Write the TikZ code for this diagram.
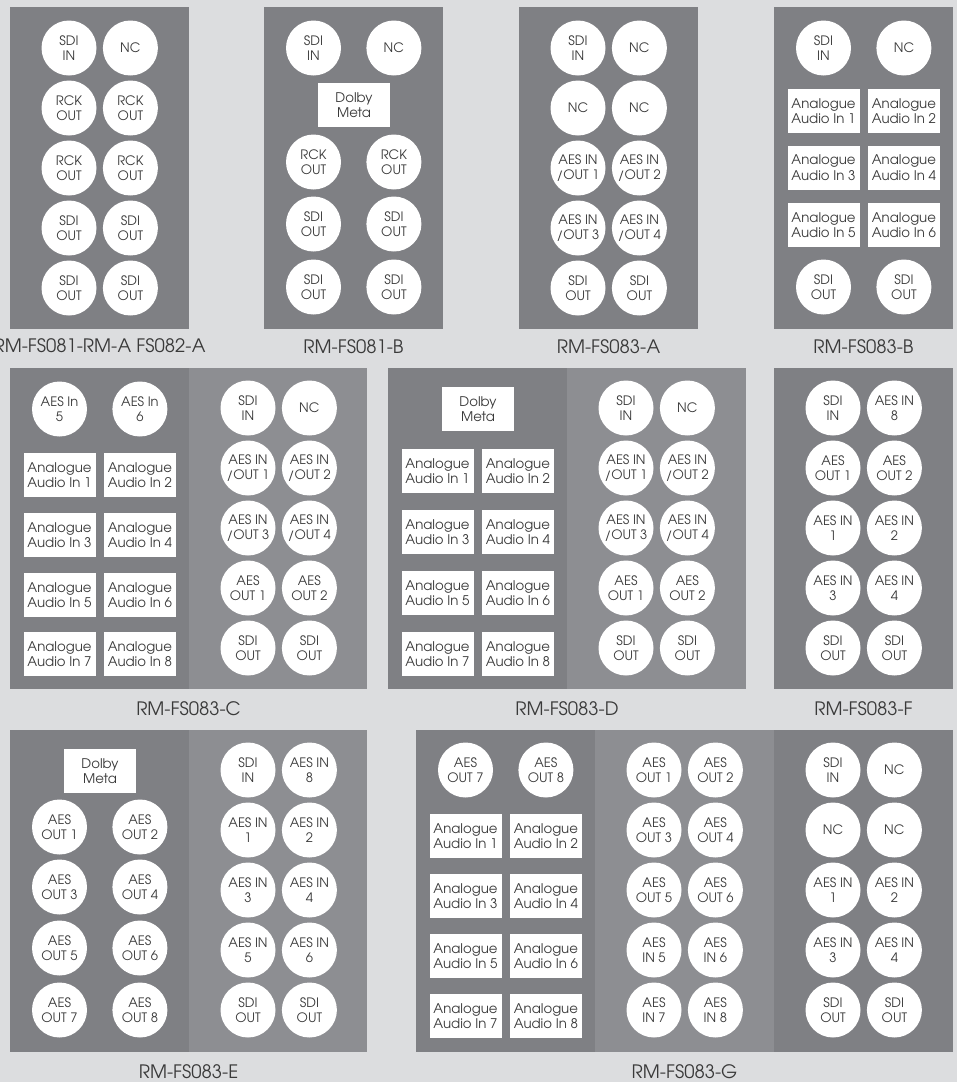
\documentclass[tikz,border=0pt]{standalone}
\usepackage{fontspec}
\setmainfont{TeX Gyre Adventor}
\usetikzlibrary{positioning}
\definecolor{pagegrey}{HTML}{DCDDDF}
\definecolor{paneldark}{HTML}{7F8084}
\definecolor{panellight}{HTML}{8D8E92}
\definecolor{textgrey}{HTML}{3A3A3A}
\tikzset{
  jack/.style={circle,fill=white,text=textgrey,align=center,minimum size=55pt,
    inner sep=0pt,font=\fontsize{13}{15.5}\selectfont},
  audiobox/.style={rectangle,fill=white,text=textgrey,align=center,minimum width=72pt,
    minimum height=44pt,inner sep=0pt,font=\fontsize{13.3}{15.5}\selectfont},
  panellabel/.style={text=textgrey,font=\fontsize{18.5}{21}\selectfont}
}
\begin{document}
\begin{tikzpicture}[x=1pt,y=-1pt]
  \path[use as bounding box,fill=pagegrey] (0,0) rectangle (957,1082);

  % RM-FS081-RM-A FS082-A
  \fill[paneldark] (10,7) rectangle (189,329);
  \node[jack] (rmA-sdiin) at (69,48) {SDI\\IN};
  \node[jack,right=6pt of rmA-sdiin] (rmA-nc) {NC};
  \node[jack] (rmA-rck1) at (69,108) {RCK\\OUT};
  \node[jack,right=6pt of rmA-rck1] (rmA-rck2) {RCK\\OUT};
  \node[jack] (rmA-rck3) at (69,168) {RCK\\OUT};
  \node[jack,right=6pt of rmA-rck3] (rmA-rck4) {RCK\\OUT};
  \node[jack] (rmA-sdiout1) at (69,228) {SDI\\OUT};
  \node[jack,right=6pt of rmA-sdiout1] (rmA-sdiout2) {SDI\\OUT};
  \node[jack] (rmA-sdiout3) at (69,288) {SDI\\OUT};
  \node[jack,right=6pt of rmA-sdiout3] (rmA-sdiout4) {SDI\\OUT};
  \node[panellabel] (rmA-label) at (99.5,346) {RM-FS081-RM-A FS082-A};

  % RM-FS081-B
  \fill[paneldark] (264,7) rectangle (443,329);
  \node[jack] (rmB-sdiin) at (313.5,48) {SDI\\IN};
  \node[jack,right=25pt of rmB-sdiin] (rmB-nc) {NC};
  \node[audiobox] (rmB-dolby) at (354,105) {Dolby\\Meta};
  \node[jack] (rmB-rck1) at (313.5,162) {RCK\\OUT};
  \node[jack,right=25pt of rmB-rck1] (rmB-rck2) {RCK\\OUT};
  \node[jack] (rmB-sdiout1) at (313.5,224) {SDI\\OUT};
  \node[jack,right=25pt of rmB-sdiout1] (rmB-sdiout2) {SDI\\OUT};
  \node[jack] (rmB-sdiout3) at (313.5,287) {SDI\\OUT};
  \node[jack,right=25pt of rmB-sdiout3] (rmB-sdiout4) {SDI\\OUT};
  \node[panellabel] (rmB-label) at (353.5,347) {RM-FS081-B};

  % RM-FS083-A
  \fill[paneldark] (519,7) rectangle (698,329);
  \node[jack] (fsA-sdiin) at (578,48) {SDI\\IN};
  \node[jack,right=6pt of fsA-sdiin] (fsA-nc1) {NC};
  \node[jack] (fsA-nc2) at (578,108) {NC};
  \node[jack,right=6pt of fsA-nc2] (fsA-nc3) {NC};
  \node[jack] (fsA-aes1) at (578,168) {AES IN\\/OUT 1};
  \node[jack,right=6pt of fsA-aes1] (fsA-aes2) {AES IN\\/OUT 2};
  \node[jack] (fsA-aes3) at (578,228) {AES IN\\/OUT 3};
  \node[jack,right=6pt of fsA-aes3] (fsA-aes4) {AES IN\\/OUT 4};
  \node[jack] (fsA-sdiout1) at (578,288) {SDI\\OUT};
  \node[jack,right=6pt of fsA-sdiout1] (fsA-sdiout2) {SDI\\OUT};
  \node[panellabel] (fsA-label) at (608.5,347) {RM-FS083-A};

  % RM-FS083-B
  \fill[paneldark] (774,7) rectangle (953,329);
  \node[jack] (fsB-sdiin) at (823.5,48) {SDI\\IN};
  \node[jack,right=25pt of fsB-sdiin] (fsB-nc) {NC};
  \node[audiobox] (fsB-ana1) at (823.5,111) {Analogue\\Audio In 1};
  \node[audiobox,right=8pt of fsB-ana1] (fsB-ana2) {Analogue\\Audio In 2};
  \node[audiobox] (fsB-ana3) at (823.5,167.5) {Analogue\\Audio In 3};
  \node[audiobox,right=8pt of fsB-ana3] (fsB-ana4) {Analogue\\Audio In 4};
  \node[audiobox] (fsB-ana5) at (823.5,225) {Analogue\\Audio In 5};
  \node[audiobox,right=8pt of fsB-ana5] (fsB-ana6) {Analogue\\Audio In 6};
  \node[jack] (fsB-sdiout1) at (823.5,287) {SDI\\OUT};
  \node[jack,right=25pt of fsB-sdiout1] (fsB-sdiout2) {SDI\\OUT};
  \node[panellabel] (fsB-label) at (863.5,347) {RM-FS083-B};

  % RM-FS083-C
  \fill[paneldark] (10,368) rectangle (189,689);
  \fill[panellight] (189,368) rectangle (367,689);
  \node[jack] (fsC-aesin5) at (59.5,409) {AES In\\5};
  \node[jack,right=25pt of fsC-aesin5] (fsC-aesin6) {AES In\\6};
  \node[audiobox] (fsC-ana1) at (59.5,475) {Analogue\\Audio In 1};
  \node[audiobox,right=8pt of fsC-ana1] (fsC-ana2) {Analogue\\Audio In 2};
  \node[audiobox] (fsC-ana3) at (59.5,535) {Analogue\\Audio In 3};
  \node[audiobox,right=8pt of fsC-ana3] (fsC-ana4) {Analogue\\Audio In 4};
  \node[audiobox] (fsC-ana5) at (59.5,595) {Analogue\\Audio In 5};
  \node[audiobox,right=8pt of fsC-ana5] (fsC-ana6) {Analogue\\Audio In 6};
  \node[audiobox] (fsC-ana7) at (59.5,654) {Analogue\\Audio In 7};
  \node[audiobox,right=8pt of fsC-ana7] (fsC-ana8) {Analogue\\Audio In 8};
  \node[jack] (fsC-sdiin) at (248,408) {SDI\\IN};
  \node[jack,right=6pt of fsC-sdiin] (fsC-nc) {NC};
  \node[jack] (fsC-aes1) at (248,468) {AES IN\\/OUT 1};
  \node[jack,right=6pt of fsC-aes1] (fsC-aes2) {AES IN\\/OUT 2};
  \node[jack] (fsC-aes3) at (248,528) {AES IN\\/OUT 3};
  \node[jack,right=6pt of fsC-aes3] (fsC-aes4) {AES IN\\/OUT 4};
  \node[jack] (fsC-aesout1) at (248,588) {AES\\OUT 1};
  \node[jack,right=6pt of fsC-aesout1] (fsC-aesout2) {AES\\OUT 2};
  \node[jack] (fsC-sdiout1) at (248,648) {SDI\\OUT};
  \node[jack,right=6pt of fsC-sdiout1] (fsC-sdiout2) {SDI\\OUT};
  \node[panellabel] (fsC-label) at (188.5,709) {RM-FS083-C};

  % RM-FS083-D
  \fill[paneldark] (388,368) rectangle (567,689);
  \fill[panellight] (567,368) rectangle (746,689);
  \node[audiobox] (fsD-dolby) at (478,409) {Dolby\\Meta};
  \node[audiobox] (fsD-ana1) at (437.5,471) {Analogue\\Audio In 1};
  \node[audiobox,right=8pt of fsD-ana1] (fsD-ana2) {Analogue\\Audio In 2};
  \node[audiobox] (fsD-ana3) at (437.5,532) {Analogue\\Audio In 3};
  \node[audiobox,right=8pt of fsD-ana3] (fsD-ana4) {Analogue\\Audio In 4};
  \node[audiobox] (fsD-ana5) at (437.5,593) {Analogue\\Audio In 5};
  \node[audiobox,right=8pt of fsD-ana5] (fsD-ana6) {Analogue\\Audio In 6};
  \node[audiobox] (fsD-ana7) at (437.5,654) {Analogue\\Audio In 7};
  \node[audiobox,right=8pt of fsD-ana7] (fsD-ana8) {Analogue\\Audio In 8};
  \node[jack] (fsD-sdiin) at (626,408) {SDI\\IN};
  \node[jack,right=6pt of fsD-sdiin] (fsD-nc) {NC};
  \node[jack] (fsD-aes1) at (626,468) {AES IN\\/OUT 1};
  \node[jack,right=6pt of fsD-aes1] (fsD-aes2) {AES IN\\/OUT 2};
  \node[jack] (fsD-aes3) at (626,528) {AES IN\\/OUT 3};
  \node[jack,right=6pt of fsD-aes3] (fsD-aes4) {AES IN\\/OUT 4};
  \node[jack] (fsD-aesout1) at (626,588) {AES\\OUT 1};
  \node[jack,right=6pt of fsD-aesout1] (fsD-aesout2) {AES\\OUT 2};
  \node[jack] (fsD-sdiout1) at (626,648) {SDI\\OUT};
  \node[jack,right=6pt of fsD-sdiout1] (fsD-sdiout2) {SDI\\OUT};
  \node[panellabel] (fsD-label) at (567,709) {RM-FS083-D};

  % RM-FS083-F
  \fill[paneldark] (774,368) rectangle (953,689);
  \node[jack] (fsF-sdiin) at (833,408) {SDI\\IN};
  \node[jack,right=6pt of fsF-sdiin] (fsF-aesin8) {AES IN\\8};
  \node[jack] (fsF-aesout1) at (833,468) {AES\\OUT 1};
  \node[jack,right=6pt of fsF-aesout1] (fsF-aesout2) {AES\\OUT 2};
  \node[jack] (fsF-aesin1) at (833,528) {AES IN\\1};
  \node[jack,right=6pt of fsF-aesin1] (fsF-aesin2) {AES IN\\2};
  \node[jack] (fsF-aesin3) at (833,588) {AES IN\\3};
  \node[jack,right=6pt of fsF-aesin3] (fsF-aesin4) {AES IN\\4};
  \node[jack] (fsF-sdiout1) at (833,648) {SDI\\OUT};
  \node[jack,right=6pt of fsF-sdiout1] (fsF-sdiout2) {SDI\\OUT};
  \node[panellabel] (fsF-label) at (863.5,709) {RM-FS083-F};

  % RM-FS083-E
  \fill[paneldark] (10,730) rectangle (189,1052);
  \fill[panellight] (189,730) rectangle (367,1052);
  \node[audiobox] (fsE-dolby) at (100,771) {Dolby\\Meta};
  \node[jack] (fsE-aesout1) at (59.5,827) {AES\\OUT 1};
  \node[jack,right=25pt of fsE-aesout1] (fsE-aesout2) {AES\\OUT 2};
  \node[jack] (fsE-aesout3) at (59.5,887) {AES\\OUT 3};
  \node[jack,right=25pt of fsE-aesout3] (fsE-aesout4) {AES\\OUT 4};
  \node[jack] (fsE-aesout5) at (59.5,948) {AES\\OUT 5};
  \node[jack,right=25pt of fsE-aesout5] (fsE-aesout6) {AES\\OUT 6};
  \node[jack] (fsE-aesout7) at (59.5,1010) {AES\\OUT 7};
  \node[jack,right=25pt of fsE-aesout7] (fsE-aesout8) {AES\\OUT 8};
  \node[jack] (fsE-sdiin) at (248,770) {SDI\\IN};
  \node[jack,right=6pt of fsE-sdiin] (fsE-aesin8) {AES IN\\8};
  \node[jack] (fsE-aesin1) at (248,830) {AES IN\\1};
  \node[jack,right=6pt of fsE-aesin1] (fsE-aesin2) {AES IN\\2};
  \node[jack] (fsE-aesin3) at (248,890) {AES IN\\3};
  \node[jack,right=6pt of fsE-aesin3] (fsE-aesin4) {AES IN\\4};
  \node[jack] (fsE-aesin5) at (248,950) {AES IN\\5};
  \node[jack,right=6pt of fsE-aesin5] (fsE-aesin6) {AES IN\\6};
  \node[jack] (fsE-sdiout1) at (248,1010) {SDI\\OUT};
  \node[jack,right=6pt of fsE-sdiout1] (fsE-sdiout2) {SDI\\OUT};
  \node[panellabel] (fsE-label) at (188.5,1072) {RM-FS083-E};

  % RM-FS083-G
  \fill[paneldark] (416,730) rectangle (595,1052);
  \fill[panellight] (595,730) rectangle (774,1052);
  \fill[paneldark] (774,730) rectangle (953,1052);
  \node[jack] (fsG-aesout7) at (465.5,770) {AES\\OUT 7};
  \node[jack,right=25pt of fsG-aesout7] (fsG-aesout8) {AES\\OUT 8};
  \node[audiobox] (fsG-ana1) at (465.5,836) {Analogue\\Audio In 1};
  \node[audiobox,right=8pt of fsG-ana1] (fsG-ana2) {Analogue\\Audio In 2};
  \node[audiobox] (fsG-ana3) at (465.5,896) {Analogue\\Audio In 3};
  \node[audiobox,right=8pt of fsG-ana3] (fsG-ana4) {Analogue\\Audio In 4};
  \node[audiobox] (fsG-ana5) at (465.5,956) {Analogue\\Audio In 5};
  \node[audiobox,right=8pt of fsG-ana5] (fsG-ana6) {Analogue\\Audio In 6};
  \node[audiobox] (fsG-ana7) at (465.5,1016) {Analogue\\Audio In 7};
  \node[audiobox,right=8pt of fsG-ana7] (fsG-ana8) {Analogue\\Audio In 8};
  \node[jack] (fsG-aesout1) at (654,770) {AES\\OUT 1};
  \node[jack,right=6pt of fsG-aesout1] (fsG-aesout2) {AES\\OUT 2};
  \node[jack] (fsG-aesout3) at (654,830) {AES\\OUT 3};
  \node[jack,right=6pt of fsG-aesout3] (fsG-aesout4) {AES\\OUT 4};
  \node[jack] (fsG-aesout5) at (654,890) {AES\\OUT 5};
  \node[jack,right=6pt of fsG-aesout5] (fsG-aesout6) {AES\\OUT 6};
  \node[jack] (fsG-aesin5) at (654,950) {AES\\IN 5};
  \node[jack,right=6pt of fsG-aesin5] (fsG-aesin6) {AES\\IN 6};
  \node[jack] (fsG-aesin7) at (654,1010) {AES\\IN 7};
  \node[jack,right=6pt of fsG-aesin7] (fsG-aesin8) {AES\\IN 8};
  \node[jack] (fsG-sdiin) at (833,770) {SDI\\IN};
  \node[jack,right=6pt of fsG-sdiin] (fsG-nc1) {NC};
  \node[jack] (fsG-nc2) at (833,830) {NC};
  \node[jack,right=6pt of fsG-nc2] (fsG-nc3) {NC};
  \node[jack] (fsG-aesin1) at (833,890) {AES IN\\1};
  \node[jack,right=6pt of fsG-aesin1] (fsG-aesin2) {AES IN\\2};
  \node[jack] (fsG-aesin3) at (833,950) {AES IN\\3};
  \node[jack,right=6pt of fsG-aesin3] (fsG-aesin4) {AES IN\\4};
  \node[jack] (fsG-sdiout1) at (833,1010) {SDI\\OUT};
  \node[jack,right=6pt of fsG-sdiout1] (fsG-sdiout2) {SDI\\OUT};
  \node[panellabel] (fsG-label) at (684.5,1072) {RM-FS083-G};
\end{tikzpicture}
\end{document}
